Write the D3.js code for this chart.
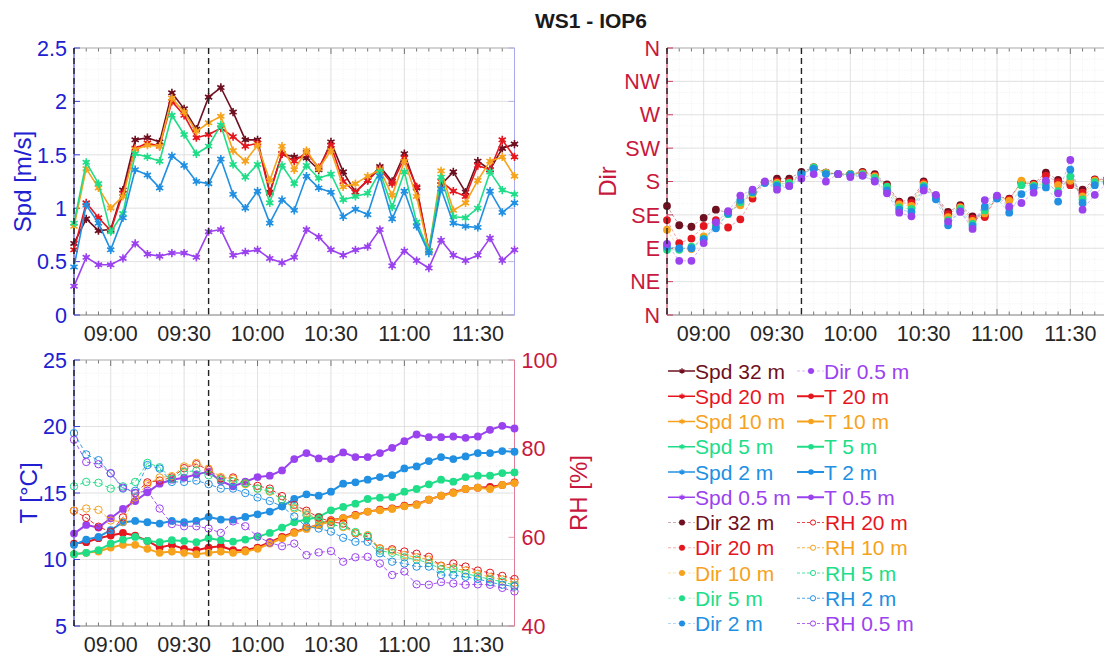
<!DOCTYPE html>
<html><head><meta charset="utf-8">
<script src="https://cdn.jsdelivr.net/npm/d3@7"></script>
<style>
body{margin:0;background:#fff;}
svg{display:block;font-family:"Liberation Sans",Arial,Helvetica,sans-serif;}
</style></head><body>
<svg id="fig" width="1104" height="659"></svg>
<script>
// Sample times (5-minute means)
const times = ["08:45","08:50","08:55","09:00","09:05","09:10","09:15","09:20","09:25","09:30",
  "09:35","09:40","09:45","09:50","09:55","10:00","10:05","10:10","10:15","10:20",
  "10:25","10:30","10:35","10:40","10:45","10:50","10:55","11:00","11:05","11:10",
  "11:15","11:20","11:25","11:30","11:35","11:40","11:45"];
const markTimes = ["08:45","09:40"];

// Wind speed [m/s]
const spd32 = [0.67,0.90,0.79,0.80,1.17,1.64,1.66,1.62,2.08,1.93,1.74,2.04,2.13,1.90,1.64,1.64,1.15,1.51,1.48,1.47,1.36,1.62,1.34,1.15,1.26,1.39,1.25,1.51,1.19,0.60,1.22,1.34,1.15,1.44,1.36,1.56,1.60];
const spd20 = [0.61,1.05,0.91,0.79,1.14,1.56,1.61,1.58,2.00,1.87,1.66,1.69,1.75,1.67,1.58,1.61,1.14,1.51,1.44,1.52,1.38,1.59,1.25,1.15,1.26,1.37,1.23,1.47,1.20,0.60,1.25,1.16,1.11,1.40,1.36,1.64,1.48];
const spd10 = [0.83,1.37,1.19,1.00,1.11,1.55,1.59,1.58,2.03,1.90,1.72,1.80,1.86,1.54,1.44,1.59,1.26,1.58,1.36,1.54,1.37,1.54,1.20,1.23,1.30,1.36,1.12,1.44,1.11,0.60,1.35,0.98,1.05,1.26,1.44,1.48,1.30];
const spd5  = [0.86,1.43,1.23,0.78,0.95,1.51,1.48,1.44,1.87,1.69,1.51,1.58,1.78,1.41,1.29,1.41,1.05,1.40,1.23,1.40,1.28,1.32,1.08,1.11,1.14,1.34,1.01,1.34,0.87,0.60,1.29,0.92,0.91,1.00,1.34,1.17,1.13];
const spd2  = [0.45,1.03,0.86,0.61,0.91,1.36,1.31,1.19,1.49,1.40,1.25,1.23,1.46,1.13,1.00,1.16,0.86,1.08,0.98,1.30,1.19,1.15,0.92,0.99,0.94,1.30,0.90,1.16,0.83,0.58,1.18,0.86,0.83,0.82,1.16,0.96,1.05];
const spd05 = [0.27,0.54,0.47,0.47,0.53,0.67,0.57,0.55,0.58,0.58,0.54,0.78,0.80,0.56,0.59,0.61,0.53,0.49,0.54,0.80,0.73,0.61,0.56,0.61,0.64,0.80,0.46,0.60,0.51,0.44,0.70,0.56,0.51,0.56,0.72,0.51,0.61];

// Wind direction [deg, 0 = N]
const dir32 = [147,121,119,131,142,138,150,165,179,184,184,193,199,192,190,190,193,190,176,153,155,180,160,139,148,133,134,160,157,179,177,192,182,178,169,183,183];
const dir20 = [128,97,103,120,128,118,129,157,179,180,180,190,199,192,190,190,192,188,174,151,151,178,159,136,146,130,132,159,156,178,176,188,179,175,165,182,183];
const dir10 = [115,89,89,106,123,139,148,163,179,178,178,189,199,192,190,190,191,187,172,149,147,176,158,132,145,127,137,159,154,181,175,180,175,181,160,181,182];
const dir5  = [88,88,92,103,120,136,152,165,179,176,178,190,199,191,190,190,190,185,173,145,143,174,160,128,143,123,141,158,144,175,174,177,167,187,156,179,181];
const dir2  = [92,90,90,102,117,137,155,166,178,174,174,190,197,190,190,189,188,181,168,142,139,172,156,121,140,120,146,157,138,163,172,172,153,196,151,175,180];
const dir05 = [96,73,73,97,125,140,161,169,180,169,174,184,190,180,190,186,188,180,164,138,133,168,162,126,139,116,155,161,146,151,165,181,164,209,142,162,178];

// Air temperature [°C]
const t20 = [11.2,11.3,11.6,11.8,12.0,11.8,11.4,10.9,11.1,10.8,10.7,10.9,11.0,10.7,10.7,10.9,11.3,11.7,12.05,12.35,12.6,12.95,13.1,13.35,13.6,13.75,13.85,14.05,14.15,14.5,14.8,15.05,15.3,15.4,15.45,15.6,15.8];
const t10 = [10.4,10.5,10.6,10.9,11.1,11.1,10.8,10.5,10.6,10.5,10.4,10.5,10.6,10.5,10.6,10.8,11.2,11.6,12.0,12.3,12.6,12.9,13.1,13.3,13.6,13.7,13.8,14.0,14.1,14.5,14.8,15.0,15.3,15.4,15.3,15.6,15.75];
const t5  = [10.4,10.5,10.7,11.2,11.5,11.7,11.4,11.3,11.45,11.4,11.3,11.6,11.45,11.35,11.5,11.7,12.0,12.4,12.8,13.0,13.2,13.7,13.95,14.2,14.55,14.65,14.7,15.1,15.3,15.65,16.0,15.85,16.2,16.3,16.3,16.5,16.55];
const t2  = [11.1,11.5,11.7,12.2,12.8,12.9,12.8,12.7,12.9,12.8,12.9,13.2,13.0,13.0,13.2,13.4,13.6,14.0,14.55,14.9,14.8,15.1,15.7,15.8,16.0,16.2,16.35,16.85,17.0,17.4,17.7,17.55,17.75,18.0,18.0,18.15,18.1];
const t05 = [11.95,12.6,12.4,13.1,13.8,14.4,15.05,15.7,16.0,16.15,16.4,16.6,15.9,15.5,15.85,16.2,16.3,16.7,17.55,18.0,17.6,17.55,18.05,17.7,17.7,18.0,18.4,18.9,19.4,19.2,19.2,19.25,19.15,19.25,19.75,20.05,19.85];

// Relative humidity [%]
const rh20 = [66.0,64.4,62.4,61.2,64.5,70.0,72.4,72.8,73.5,75.6,76.5,75.2,73.3,73.5,72.2,71.6,71.0,69.3,67.3,66.0,64.5,63.5,63.1,60.9,60.1,57.5,57.3,56.8,56.3,55.6,53.6,54.1,53.4,52.5,52.0,51.3,50.6];
const rh10 = [66.0,66.5,66.2,63.8,63.5,69.0,72.0,73.5,73.8,76.0,76.8,75.5,73.6,73.2,72.0,71.0,70.3,68.5,66.5,65.5,64.0,63.0,62.3,61.0,60.5,57.5,57.0,56.0,55.5,55.0,53.5,53.0,52.5,51.8,51.0,50.5,49.8];
const rh5  = [71.5,72.5,72.3,71.0,71.5,72.5,76.8,75.8,73.2,74.8,75.0,74.0,73.0,72.6,72.2,71.0,70.5,68.5,66.8,65.0,64.0,62.8,62.5,61.2,60.3,57.0,56.5,55.5,55.0,54.2,52.8,52.8,51.8,51.2,50.5,50.0,49.2];
const rh2  = [83.5,78.7,77.4,74.4,71.0,70.5,76.3,75.5,72.5,72.5,72.8,72.0,71.0,71.0,70.0,69.0,68.2,67.0,64.7,62.4,62.0,61.3,59.9,59.0,59.0,56.4,54.5,54.1,53.4,53.4,51.5,51.5,51.1,50.6,49.9,49.3,48.9];
const rh05 = [82.0,77.0,76.5,74.5,71.2,70.0,70.5,66.5,63.0,62.5,62.5,62.0,61.0,63.6,62.5,60.2,58.8,58.0,58.6,56.0,56.6,56.9,54.5,55.5,55.6,54.1,51.5,52.3,49.4,49.3,49.9,49.6,49.3,49.4,49.3,48.6,47.8];

// Axis ticks
const spdTicks = [0,0.5,1,1.5,2,2.5];
const dirTicks = [0,45,90,135,180,225,270,315,360];
const dirLabels = ["N","NE","E","SE","S","SW","W","NW","N"];
const tTicks = [5,10,15,20,25];
const rhTicks = [40,60,80,100];

const heights = ["32 m","20 m","10 m","5 m","2 m","0.5 m"];
const colors = ["#6e1020","#e6161e","#f6a21c","#20dd88","#2190e2","#9b42ef"];

const spdSeries = [spd32,spd20,spd10,spd5,spd2,spd05];
const dirSeries = [dir32,dir20,dir10,dir5,dir2,dir05];
const tSeries = [null,t20,t10,t5,t2,t05];
const rhSeries = [null,rh20,rh10,rh5,rh2,rh05];

const BLUE = "#2020d2", CRIMSON = "#c8183e", INK = "#262626";
const FS = 21.5;

const svg = d3.select("#fig");
const parse = d3.timeParse("%H:%M");
const tDates = times.map(parse);
const xDomain = [tDates[0], tDates[tDates.length-1]];
const fmt = d3.timeFormat("%H:%M");

function makePanel(x0, x1, y0, y1, yScale, yMajor, yMinor) {
  const x = d3.scaleTime().domain(xDomain).range([x0, x1]);
  const g = svg.append("g");
  const gridG = g.append("g");
  const xMinor = d3.timeMinute.every(5).range(xDomain[0], new Date(+xDomain[1] + 1));
  const xMajor = d3.timeMinute.every(30).range(xDomain[0], new Date(+xDomain[1] + 1));
  // minor grid
  gridG.selectAll(".vmin").data(xMinor).join("line")
    .attr("x1", d => x(d)).attr("x2", d => x(d)).attr("y1", y0).attr("y2", y1)
    .attr("stroke", "#ececec").attr("stroke-width", 0.7).attr("stroke-dasharray", "1,1.5");
  gridG.selectAll(".hmin").data(yMinor).join("line")
    .attr("y1", d => yScale(d)).attr("y2", d => yScale(d)).attr("x1", x0).attr("x2", x1)
    .attr("stroke", "#ececec").attr("stroke-width", 0.7).attr("stroke-dasharray", "1,1.5");
  // major grid
  gridG.selectAll(".vmaj").data(xMajor).join("line")
    .attr("x1", d => x(d)).attr("x2", d => x(d)).attr("y1", y0).attr("y2", y1)
    .attr("stroke", "#dcdcdc").attr("stroke-width", 0.8);
  gridG.selectAll(".hmaj").data(yMajor).join("line")
    .attr("y1", d => yScale(d)).attr("y2", d => yScale(d)).attr("x1", x0).attr("x2", x1)
    .attr("stroke", "#dcdcdc").attr("stroke-width", 0.8);
  // inward ticks on bottom and top
  const tk = g.append("g").attr("stroke", "#555").attr("stroke-width", 0.8);
  xMinor.forEach(d => {
    const L = xMajor.some(m => +m === +d) ? 6 : 3.5;
    tk.append("line").attr("x1", x(d)).attr("x2", x(d)).attr("y1", y1).attr("y2", y1 - L);
    tk.append("line").attr("x1", x(d)).attr("x2", x(d)).attr("y1", y0).attr("y2", y0 + L);
  });
  // frame: bottom/top
  g.append("line").attr("x1", x0).attr("x2", x1).attr("y1", y1).attr("y2", y1).attr("stroke", "#8a8a8a").attr("stroke-width", 1);
  g.append("line").attr("x1", x0).attr("x2", x1).attr("y1", y0).attr("y2", y0).attr("stroke", "#b8b8b8").attr("stroke-width", 1);
  // x tick labels
  g.selectAll(".xl").data(xMajor).join("text")
    .attr("x", d => x(d)).attr("y", y1 + 26).attr("text-anchor", "middle")
    .attr("font-size", FS).attr("fill", INK).text(d => fmt(d));
  const plot = svg.append("g");
  return {x, g, plot, x0, x1, y0, y1};
}

function yAxisLeft(p, y, ticks, labels, color, lineColor) {
  p.g.append("line").attr("x1", p.x0).attr("x2", p.x0).attr("y1", p.y0).attr("y2", p.y1)
    .attr("stroke", lineColor).attr("stroke-width", 1);
  ticks.forEach((t, i) => {
    p.g.append("line").attr("x1", p.x0).attr("x2", p.x0 + 6).attr("y1", y(t)).attr("y2", y(t))
      .attr("stroke", lineColor).attr("stroke-width", 0.8);
    p.g.append("text").attr("x", p.x0 - 7).attr("y", y(t)).attr("dy", "0.36em")
      .attr("text-anchor", "end").attr("font-size", FS).attr("fill", color).text(labels[i]);
  });
}
function yAxisRight(p, y, ticks, labels, color, lineColor, showLabels) {
  p.g.append("line").attr("x1", p.x1).attr("x2", p.x1).attr("y1", p.y0).attr("y2", p.y1)
    .attr("stroke", lineColor).attr("stroke-width", 1);
  ticks.forEach((t, i) => {
    p.g.append("line").attr("x1", p.x1).attr("x2", p.x1 - 6).attr("y1", y(t)).attr("y2", y(t))
      .attr("stroke", lineColor).attr("stroke-width", 0.8);
    if (showLabels) p.g.append("text").attr("x", p.x1 + 7).attr("y", y(t)).attr("dy", "0.36em")
      .attr("text-anchor", "start").attr("font-size", FS).attr("fill", color).text(labels[i]);
  });
}
function yLabel(cx, cy, text, color) {
  svg.append("text").attr("transform", `translate(${cx},${cy}) rotate(-90)`)
    .attr("text-anchor", "middle").attr("dy", "0.36em").attr("font-size", 24)
    .attr("fill", color).text(text);
}
function eventLines(p) {
  markTimes.map(parse).forEach(d => {
    p.plot.append("line").attr("x1", p.x(d)).attr("x2", p.x(d)).attr("y1", p.y0).attr("y2", p.y1)
      .attr("stroke", "#222").attr("stroke-width", 1.4).attr("stroke-dasharray", "6,4");
  });
}

// ---------- Title ----------
svg.append("text").attr("x", 591).attr("y", 28).attr("text-anchor", "middle")
  .attr("font-size", 21).attr("font-weight", "bold").attr("fill", "#1a1a1a").text("WS1 - IOP6");

// ---------- Wind speed ----------
const ySpd = d3.scaleLinear().domain([0, 2.5]).range([315, 48]);
const pS = makePanel(74, 514.5, 48, 315, ySpd, spdTicks, d3.range(0, 2.51, 0.1).map(v => +v.toFixed(1)));
yAxisLeft(pS, ySpd, spdTicks, spdTicks.map(String), BLUE, BLUE);
yAxisRight(pS, ySpd, spdTicks, null, BLUE, "#a9a9ee", false);
yLabel(22, 181.5, "Spd [m/s]", BLUE);
const star = d3.symbol().type(d3.symbolAsterisk).size(48);
spdSeries.forEach((s, k) => {
  const line = d3.line().x((d, i) => pS.x(tDates[i])).y(d => ySpd(d));
  pS.plot.append("path").datum(s).attr("d", line).attr("fill", "none")
    .attr("stroke", colors[k]).attr("stroke-width", 1.6).attr("stroke-linejoin", "round");
  pS.plot.selectAll(null).data(s).join("path").attr("d", star)
    .attr("transform", (d, i) => `translate(${pS.x(tDates[i])},${ySpd(d)})`)
    .attr("fill", "none").attr("stroke", colors[k]).attr("stroke-width", 1.6);
  pS.plot.selectAll(null).data(s).join("circle")
    .attr("cx", (d, i) => pS.x(tDates[i])).attr("cy", d => ySpd(d)).attr("r", 2.2)
    .attr("fill", colors[k]);
});
eventLines(pS);

// ---------- Wind direction ----------
const yDir = d3.scaleLinear().domain([0, 360]).range([315, 48]);
const pD = makePanel(667, 1107, 48, 315, yDir, dirTicks, d3.range(0, 361, 15));
yAxisLeft(pD, yDir, dirTicks, dirLabels, CRIMSON, CRIMSON);
yLabel(607, 181.5, "Dir", CRIMSON);
dirSeries.forEach((s, k) => {
  const line = d3.line().x((d, i) => pD.x(tDates[i])).y(d => yDir(d));
  pD.plot.append("path").datum(s).attr("d", line).attr("fill", "none")
    .attr("stroke", colors[k]).attr("stroke-width", 0.8).attr("stroke-opacity", 0.5)
    .attr("stroke-dasharray", "3,2");
});
dirSeries.forEach((s, k) => {
  pD.plot.selectAll(null).data(s).join("circle")
    .attr("cx", (d, i) => pD.x(tDates[i])).attr("cy", d => yDir(d)).attr("r", 3.9)
    .attr("fill", colors[k]);
});
eventLines(pD);

// ---------- Temperature & RH ----------
const yT = d3.scaleLinear().domain([5, 25]).range([626, 360]);
const yRH = d3.scaleLinear().domain([40, 100]).range([626, 360]);
const pT = makePanel(74, 514.5, 360, 626, yT, tTicks, d3.range(5, 25.1, 1));
yAxisLeft(pT, yT, tTicks, tTicks.map(String), BLUE, BLUE);
yAxisRight(pT, yRH, rhTicks, rhTicks.map(String), CRIMSON, "#e07c95", true);
yLabel(28, 493, "T [°C]", BLUE);
yLabel(578, 493, "RH [%]", CRIMSON);
tSeries.forEach((s, k) => {
  if (!s) return;
  const line = d3.line().x((d, i) => pT.x(tDates[i])).y(d => yT(d));
  pT.plot.append("path").datum(s).attr("d", line).attr("fill", "none")
    .attr("stroke", colors[k]).attr("stroke-width", 2).attr("stroke-linejoin", "round");
  pT.plot.selectAll(null).data(s).join("circle")
    .attr("cx", (d, i) => pT.x(tDates[i])).attr("cy", d => yT(d)).attr("r", 3.9)
    .attr("fill", colors[k]);
});
rhSeries.forEach((s, k) => {
  if (!s) return;
  const line = d3.line().x((d, i) => pT.x(tDates[i])).y(d => yRH(d));
  pT.plot.append("path").datum(s).attr("d", line).attr("fill", "none")
    .attr("stroke", colors[k]).attr("stroke-width", 0.9).attr("stroke-dasharray", "4,2.5");
  pT.plot.selectAll(null).data(s).join("circle")
    .attr("cx", (d, i) => pT.x(tDates[i])).attr("cy", d => yRH(d)).attr("r", 3.7)
    .attr("fill", "none").attr("stroke", colors[k]).attr("stroke-width", 1);
});
eventLines(pT);

// ---------- Legend ----------
const legendEntries = [];
heights.forEach((h, k) => legendEntries.push({kind: "Spd", label: "Spd " + h, c: colors[k]}));
heights.forEach((h, k) => legendEntries.push({kind: "Dir", label: "Dir " + h, c: colors[k]}));
heights.forEach((h, k) => { if (tSeries[k]) legendEntries.push({kind: "T", label: "T " + h, c: colors[k]}); });
heights.forEach((h, k) => { if (rhSeries[k]) legendEntries.push({kind: "RH", label: "RH " + h, c: colors[k]}); });
const lg = svg.append("g");
const rowsPerCol = 11, colX = [668, 797], rowY0 = 371, rowH = 25.25;
legendEntries.forEach((e, n) => {
  const col = Math.floor(n / rowsPerCol), row = n % rowsPerCol;
  const lx = colX[col], ly = rowY0 + row * rowH;
  const g = lg.append("g").attr("transform", `translate(${lx},${ly})`);
  const mx = 14;
  if (e.kind === "Spd" || e.kind === "T") {
    g.append("line").attr("x1", 0).attr("x2", 27).attr("y1", 0).attr("y2", 0)
      .attr("stroke", e.c).attr("stroke-width", e.kind === "T" ? 2 : 1.5);
    if (e.kind === "Spd") {
      g.append("path").attr("d", d3.symbol().type(d3.symbolAsterisk).size(22)()).attr("transform", `translate(${mx},0)`)
        .attr("fill", "none").attr("stroke", e.c).attr("stroke-width", 1.3);
    } else {
      g.append("circle").attr("cx", mx).attr("cy", 0).attr("r", 2.8).attr("fill", e.c);
    }
  } else if (e.kind === "Dir") {
    g.append("line").attr("x1", 0).attr("x2", 27).attr("y1", 0).attr("y2", 0)
      .attr("stroke", e.c).attr("stroke-width", 0.7).attr("stroke-opacity", 0.5).attr("stroke-dasharray", "3,2");
    g.append("circle").attr("cx", mx).attr("cy", 0).attr("r", 3).attr("fill", e.c);
  } else {
    g.append("line").attr("x1", 0).attr("x2", 27).attr("y1", 0).attr("y2", 0)
      .attr("stroke", e.c).attr("stroke-width", 0.8).attr("stroke-dasharray", "3,2");
    g.append("circle").attr("cx", mx + 2).attr("cy", 0).attr("r", 2.6).attr("fill", "#fff")
      .attr("stroke", e.c).attr("stroke-width", 1);
  }
  g.append("text").attr("x", e.kind === "RH" ? 28 : 27).attr("y", 0).attr("dy", "0.36em")
    .attr("font-size", 21).attr("fill", e.c).text(e.label);
});
</script>
</body></html>
